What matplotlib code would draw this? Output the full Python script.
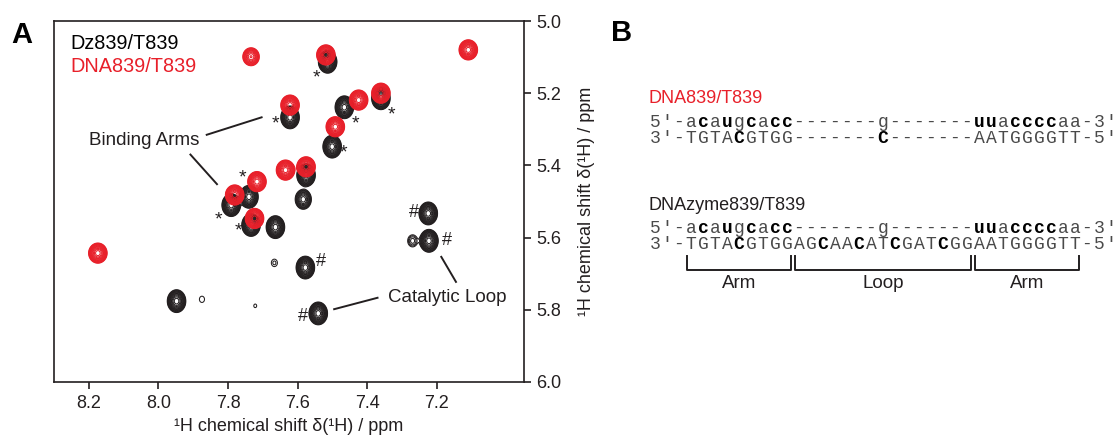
import numpy as np
import matplotlib.pyplot as plt

plt.rcParams['font.family'] = ['Liberation Sans', 'DejaVu Sans']

RED = '#e8202a'
INK = '#231f20'
GREY = '#4a4a4a'

# cross peaks, (1H ppm, 1H ppm) and relative heights
dz_x = [7.514, 7.622, 7.466, 7.361, 7.501, 7.576, 7.584, 7.740, 7.791, 7.734,
        7.664, 7.667, 7.578, 7.948, 7.875, 7.722, 7.541, 7.225, 7.223, 7.270]
dz_y = [5.113, 5.267, 5.239, 5.214, 5.348, 5.427, 5.494, 5.487, 5.510, 5.565,
        5.571, 5.670, 5.683, 5.776, 5.771, 5.789, 5.810, 5.533, 5.609, 5.609]
dz_amp = [1.0, 1.0, 1.0, 1.0, 1.0, 1.0, 0.45, 1.0, 1.0, 1.0,
          1.0, 0.05, 1.0, 1.0, 0.045, 0.038, 1.0, 1.0, 1.0, 0.09]

dna_x = [7.734, 7.519, 7.110, 7.622, 7.425, 7.361, 7.492, 7.635, 7.576, 7.717,
         7.781, 7.724, 8.174]
dna_y = [5.099, 5.094, 5.080, 5.233, 5.219, 5.200, 5.293, 5.413, 5.404, 5.445,
         5.482, 5.547, 5.643]
dna_amp = [0.5, 1.0, 1.0, 1.0, 1.0, 1.0, 1.0, 1.0, 1.0, 1.0,
           1.0, 1.0, 1.0]

# binding-arm (*) and catalytic-loop (#) assignments
star_x = [7.547, 7.664, 7.433, 7.331, 7.469, 7.758, 7.827, 7.770]
star_y = [5.143, 5.271, 5.270, 5.244, 5.350, 5.420, 5.535, 5.565]
hash_x = [7.266, 7.172, 7.533, 7.584]
hash_y = [5.531, 5.609, 5.667, 5.819]

# duplex sequences, bold residues in brackets
dna_top = "5'-a[c]a[u]g[c]a[cc]-------g-------[uu]a[cccc]aa-3'"
dna_bottom = "3'-TGTA[C]GTGG-------[C]-------AATGGGGTT-5'"
dz_top = "5'-a[c]a[u]g[c]a[cc]-------g-------[uu]a[cccc]aa-3'"
dz_bottom = "3'-TGTA[C]GTGGAG[C]AA[C]AT[C]GAT[C]GGAATGGGGTT-5'"
regions = ['Arm', 'Loop', 'Arm']
region_start = [3, 12, 27]
region_end = [12, 27, 36]

W, H = 1119, 443


def fx(px):
    return px / W


def fy(py):
    return 1 - py / H


def spectrum(X, Y, xs, ys, amps, sx, sy):
    Z = np.zeros_like(X)
    for x0, y0, a in zip(xs, ys, amps):
        Z += a * np.exp(-((X - x0) ** 2 / (2 * sx ** 2) + (Y - y0) ** 2 / (2 * sy ** 2)))
    return Z


fig = plt.figure(figsize=(W / 100, H / 100), dpi=100)
ax = fig.add_axes([fx(54), fy(382), fx(470), 361 / H])

xg = np.linspace(6.95, 8.3, 1100)
yg = np.linspace(5.0, 6.0, 900)
X, Y = np.meshgrid(xg, yg)
levels = 0.035 * 1.3 ** np.arange(14)

Zdz = spectrum(X, Y, dz_x, dz_y, dz_amp, 0.0103, 0.0122)
Zdna = spectrum(X, Y, dna_x, dna_y, dna_amp, 0.0103, 0.0108)
ax.contour(X, Y, Zdz, levels=levels, colors=INK, linewidths=0.75, zorder=2)
ax.contour(X, Y, Zdna, levels=levels, colors=RED, linewidths=0.75, zorder=3)

for x, y in zip(star_x, star_y):
    ax.annotate('*', (x, y), xytext=(0, -4), textcoords='offset points',
                ha='center', va='center', fontsize=14, color=INK)
for x, y in zip(hash_x, hash_y):
    ax.text(x, y, '#', ha='center', va='center', fontsize=13, color=INK)

# leader lines
lk = dict(color=INK, lw=1.4, solid_capstyle='butt', zorder=4)
ax.plot([7.864, 7.701], [5.316, 5.266], **lk)
ax.plot([7.910, 7.830], [5.368, 5.454], **lk)
ax.plot([7.498, 7.368], [5.799, 5.766], **lk)
ax.plot([7.189, 7.144], [5.651, 5.725], **lk)
ax.text(8.042, 5.330, 'Binding Arms', ha='center', va='center', fontsize=13.5, color=INK)
ax.text(7.170, 5.765, 'Catalytic Loop', ha='center', va='center', fontsize=13.5, color=INK)

ax.text(0.034, 0.939, 'Dz839/T839', transform=ax.transAxes, ha='left', va='center',
        fontsize=14.3, color='black')
ax.text(0.034, 0.873, 'DNA839/T839', transform=ax.transAxes, ha='left', va='center',
        fontsize=14.3, color=RED)

ax.set_xlim(8.3, 6.95)
ax.set_ylim(6.0, 5.0)
ax.set_xticks([8.2, 8.0, 7.8, 7.6, 7.4, 7.2])
ax.set_yticks([5.0, 5.2, 5.4, 5.6, 5.8, 6.0])
ax.xaxis.set_major_formatter('{x:.1f}')
ax.yaxis.set_major_formatter('{x:.1f}')
ax.yaxis.tick_right()
ax.yaxis.set_label_position('right')
ax.tick_params(direction='out', length=5, width=1.2, labelsize=13, colors=INK, pad=4)
for s in ax.spines.values():
    s.set_linewidth(1.2)
    s.set_color(INK)
ax.set_xlabel('\u00b9H chemical shift \u03b4(\u00b9H) / ppm', fontsize=13, color=INK, labelpad=5)
ax.set_ylabel('\u00b9H chemical shift \u03b4(\u00b9H) / ppm', fontsize=13, color=INK,
              rotation=90, labelpad=12)

fig.text(fx(11), fy(21), 'A', ha='left', va='top', fontsize=21, fontweight='bold')
fig.text(fx(611), fy(19), 'B', ha='left', va='top', fontsize=21, fontweight='bold')

# panel B: sequences drawn on a fixed character pitch
PITCH = 12.0
X0 = 649


def draw_seq(marked, y_base):
    i = 0
    bold = False
    for ch in marked:
        if ch == '[':
            bold = True
            continue
        if ch == ']':
            bold = False
            continue
        fig.text(fx(X0 + (i + 0.5) * PITCH), fy(y_base), ch, ha='center', va='baseline',
                 family=['Liberation Mono', 'DejaVu Sans Mono'], fontsize=13,
                 fontweight='bold' if bold else 'normal',
                 color='black' if bold else GREY)
        i += 1


fig.text(fx(648), fy(103), 'DNA839/T839', ha='left', va='baseline', fontsize=13, color=RED)
draw_seq(dna_top, 127)
draw_seq(dna_bottom, 143)
fig.text(fx(648), fy(210), 'DNAzyme839/T839', ha='left', va='baseline', fontsize=13, color=INK)
draw_seq(dz_top, 233)
draw_seq(dz_bottom, 249)

for name, a, b in zip(regions, region_start, region_end):
    left = X0 + a * PITCH + 2
    right = X0 + b * PITCH - 2
    fig.add_artist(plt.Line2D([fx(left), fx(left), fx(right), fx(right)],
                              [fy(256), fy(270), fy(270), fy(256)],
                              transform=fig.transFigure, color=INK, lw=1.4))
    fig.text(fx((left + right) / 2), fy(284), name, ha='center', va='center',
             fontsize=13.5, color=INK)

fig.savefig('out.png', dpi=100)
